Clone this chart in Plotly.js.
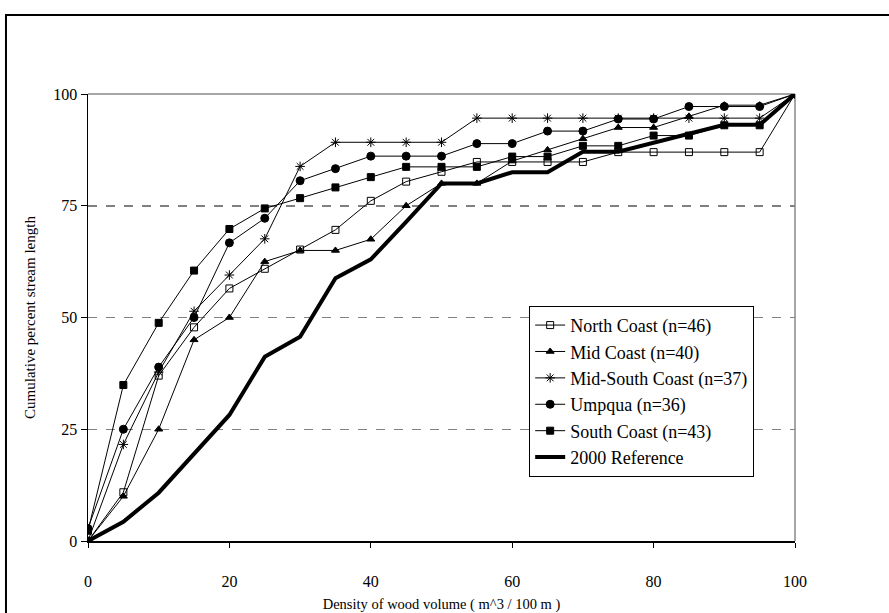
<!DOCTYPE html>
<html>
<head>
<meta charset="utf-8">
<script src="https://cdn.plot.ly/plotly-3.0.1.min.js"></script>
<style>
html,body{margin:0;padding:0;background:#fff;}
#chart{width:889px;height:613px;}
</style>
</head>
<body>
<div id="chart"></div>
<script>
const density = [0,5,10,15,20,25,30,35,40,45,50,55,60,65,70,75,80,85,90,95,100];

const seriesNames = [
  "North Coast (n=46)",
  "Mid Coast (n=40)",
  "Mid-South Coast (n=37)",
  "Umpqua (n=36)",
  "South Coast (n=43)",
  "2000 Reference"
];

const northCoast = [0,10.9,37.0,47.8,56.5,60.9,65.2,69.6,76.1,80.4,82.6,84.8,84.8,84.8,84.8,87.0,87.0,87.0,87.0,87.0,100];
const midCoast   = [0,10.0,25.0,45.0,50.0,62.5,65.0,65.0,67.5,75.0,80.0,80.0,85.0,87.5,90.0,92.5,92.5,95.0,97.5,97.5,100];
const midSouth   = [0,21.6,37.8,51.4,59.5,67.6,83.8,89.2,89.2,89.2,89.2,94.6,94.6,94.6,94.6,94.6,94.6,94.6,94.6,94.6,100];
const umpqua     = [2.8,25.0,38.9,50.0,66.7,72.2,80.6,83.3,86.1,86.1,86.1,88.9,88.9,91.7,91.7,94.4,94.4,97.2,97.2,97.2,100];
const southCoast = [2.3,34.9,48.8,60.5,69.8,74.4,76.7,79.1,81.4,83.7,83.7,83.7,86.0,86.0,88.4,88.4,90.7,90.7,93.0,93.0,100];
const reference  = [0,4.3,10.8,19.6,28.2,41.2,45.7,58.8,63.0,71.4,80.0,80.0,82.5,82.5,87.1,87.1,89.1,91.1,93.1,93.1,100];

const xTicks = [0,20,40,60,80,100];
const yTicks = [0,25,50,75,100];

const FONT = "Liberation Serif";

function series(name, y, symbol, size){
  return {
    x: density, y: y, name: name, type: "scatter", mode: "lines+markers",
    line: {color: "#000", width: 1},
    marker: {symbol: symbol, size: size, color: "#000",
             line: {color: "#000", width: 1}}
  };
}

const traces = [
  series(seriesNames[0], northCoast, "square-open", 7),
  series(seriesNames[1], midCoast, "triangle-up", 7),
  series(seriesNames[2], midSouth, "asterisk-open", 8),
  series(seriesNames[3], umpqua, "circle", 8),
  series(seriesNames[4], southCoast, "square", 7),
  {x: density, y: reference, name: seriesNames[5], type: "scatter", mode: "lines",
   line: {color: "#000", width: 4}}
];

const layout = {
  width: 889, height: 613,
  margin: {l: 88, r: 94, t: 94, b: 72},
  paper_bgcolor: "#fff", plot_bgcolor: "#fff",
  font: {family: FONT, size: 15, color: "#000"},
  showlegend: true,
  legend: {
    x: 0.624, y: 0.526, xanchor: "left", yanchor: "top",
    bgcolor: "#fff", bordercolor: "#000", borderwidth: 1,
    font: {family: FONT, size: 18, color: "#000"},
    traceorder: "normal", itemwidth: 30
  },
  xaxis: {
    range: [0, 100], tickvals: xTicks, ticktext: xTicks.map(String),
    showgrid: false, zeroline: false,
    showline: true, linecolor: "#000", linewidth: 1.5,
    ticks: "outside", ticklen: 5, tickwidth: 1, tickcolor: "#000",
    ticklabelstandoff: 20,
    tickfont: {family: FONT, size: 16},
    title: {text: "Density of wood volume ( m^3 / 100 m )", font: {family: FONT, size: 14.5}, standoff: 10}
  },
  yaxis: {
    range: [0, 100], tickvals: yTicks, ticktext: yTicks.map(String),
    showgrid: true, gridcolor: "#808080", gridwidth: 1.5, griddash: "dash",
    zeroline: false,
    showline: true, linecolor: "#000", linewidth: 1.5,
    ticks: "outside", ticklen: 6, tickwidth: 1, tickcolor: "#000",
    tickfont: {family: FONT, size: 16},
    title: {text: "Cumulative percent stream length", font: {family: FONT, size: 15}, standoff: 14}
  },
  shapes: [
    {type: "line", xref: "paper", yref: "paper", x0: 0, x1: 1, y0: 1, y1: 1,
     line: {color: "#a6a6a6", width: 2}, layer: "below"},
    {type: "line", xref: "paper", yref: "paper", x0: 1, x1: 1, y0: 0, y1: 1,
     line: {color: "#a6a6a6", width: 2}, layer: "below"},
    {type: "rect", xref: "paper", yref: "paper", x0: -0.116, x1: 1.5, y0: -0.5, y1: 1.177,
     line: {color: "#000", width: 2}, fillcolor: "rgba(0,0,0,0)", layer: "below"}
  ]
};

Plotly.newPlot("chart", traces, layout, {staticPlot: true, displayModeBar: false});
</script>
</body>
</html>
